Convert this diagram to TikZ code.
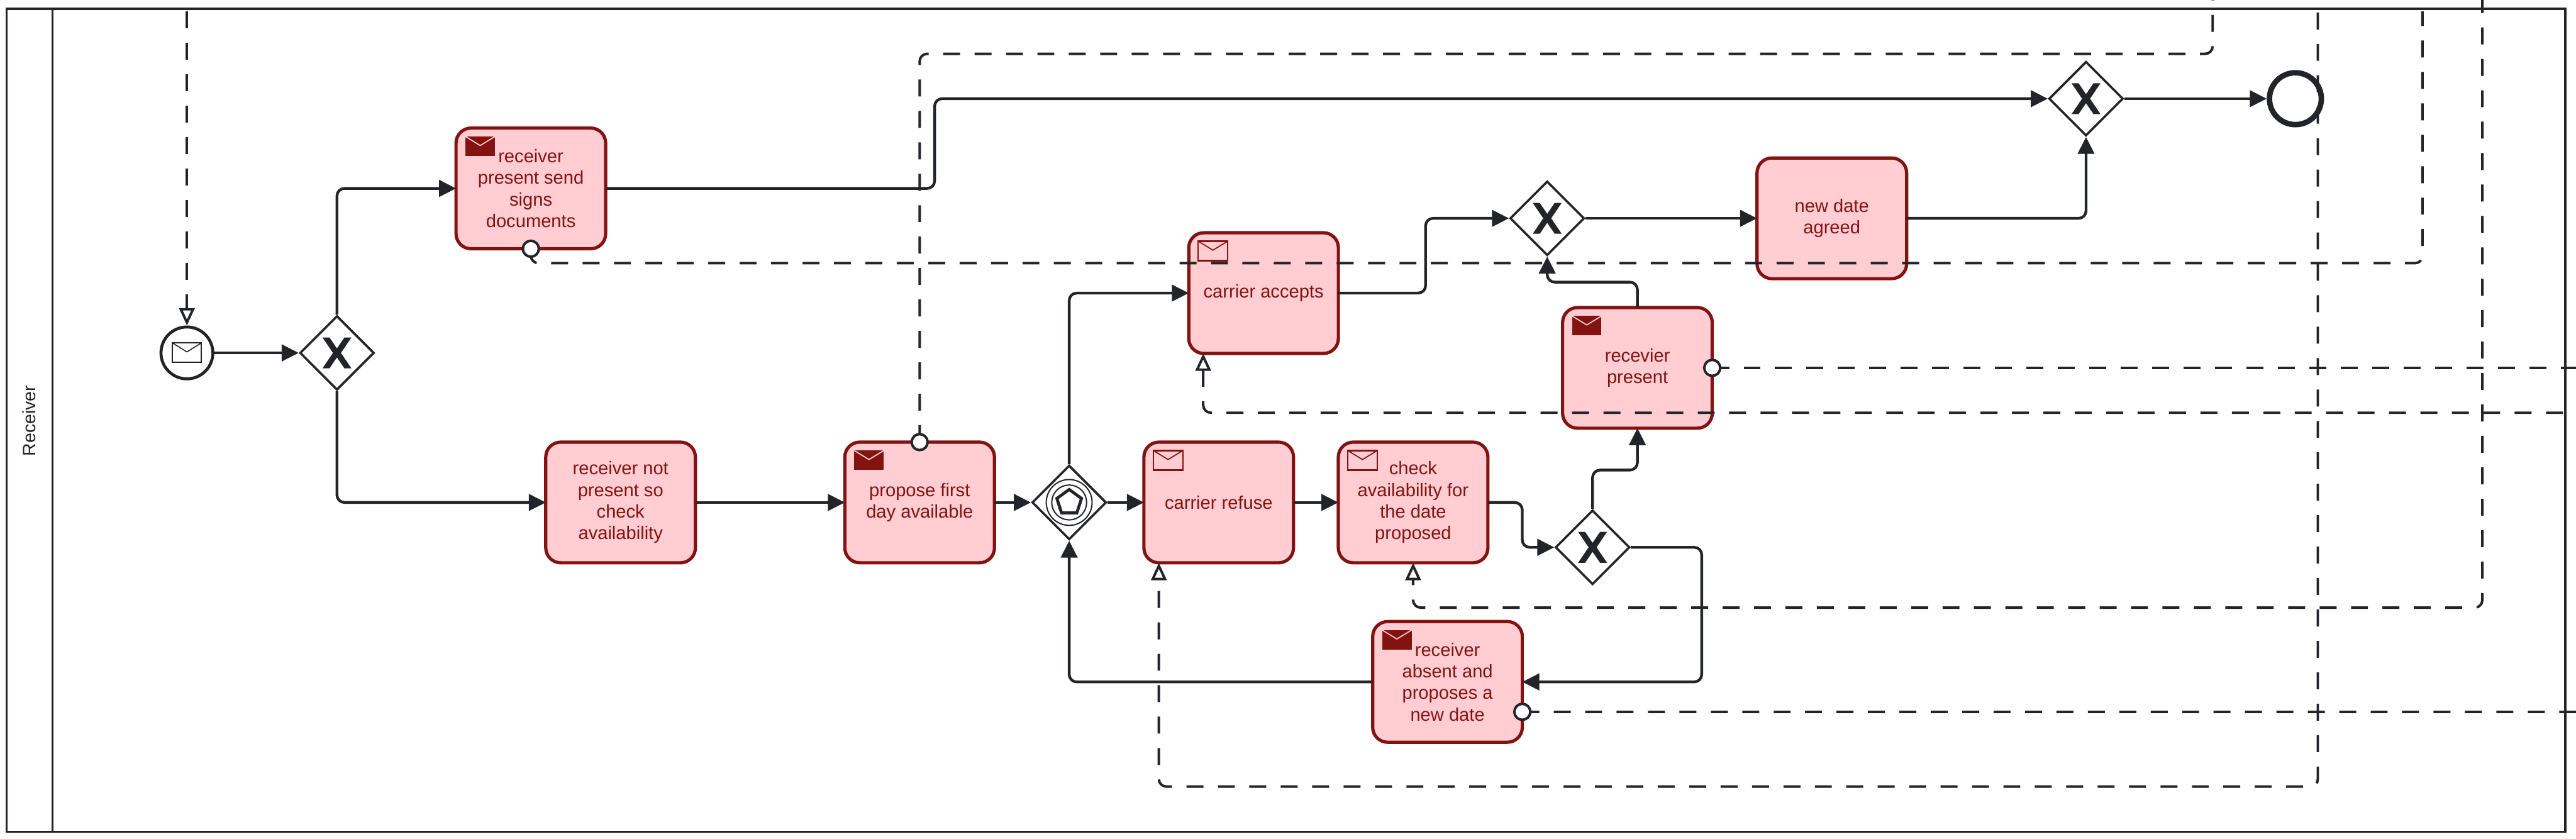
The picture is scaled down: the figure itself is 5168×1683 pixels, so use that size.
\documentclass[tikz,border=0pt]{standalone}
\usepackage{fontspec}
\setmainfont{Liberation Sans}
\usetikzlibrary{shapes.geometric, arrows.meta, calc}
\definecolor{linecolor}{RGB}{34,36,42}
\definecolor{taskline}{RGB}{131,19,17}
\definecolor{taskfill}{RGB}{255,205,210}
\tikzset{
    taskbox/.style={draw=taskline, fill=taskfill, text=taskline, line width=.065cm, rounded corners=.3cm,
        minimum width=3cm, minimum height=2.42cm, inner sep=0pt, outer sep=0pt, align=center,
        font=\fontsize{10.45}{12.33}\selectfont},
    gatewaybox/.style={diamond, draw=linecolor, fill=white, line width=.045cm, aspect=1,
        minimum width=1.49cm, minimum height=1.49cm, inner sep=0pt},
    flowline/.style={draw=linecolor, line width=.055cm, rounded corners=.15cm,
        -{Triangle[length=.34cm, width=.33cm]}},
    msgline/.style={draw=linecolor, line width=.05cm, rounded corners=.15cm, dash pattern=on .34cm off .29cm},
    msgtip/.style={-{Triangle[length=.35cm, width=.31cm, fill=white]}},
    msgdot/.style={circle, draw=linecolor, fill=white, line width=.05cm, minimum size=.32cm, inner sep=0pt},
    startevent/.style={circle, draw=linecolor, fill=white, line width=.06cm, minimum size=1.04cm, inner sep=0pt},
    endevent/.style={circle, draw=linecolor, fill=white, line width=.11cm, minimum size=1.04cm, inner sep=0pt}
}
\newcommand{\xmark}[1]{
    \fill[linecolor] ($(#1.center)+(-29,31)$) -- ++(14,0) -- ++(15,-22) -- ++(15,22) -- ++(14,0) -- ++(-21,-31)
        -- ++(21,-31) -- ++(-14,0) -- ++(-15,22) -- ++(-15,-22) -- ++(-14,0) -- ++(21,31) -- cycle;
}
\newcommand{\mailfull}[1]{
    \fill[taskline] ([shift={(19,17)}]#1.north west) rectangle ++(59,39);
    \draw[taskfill, line width=.022cm] ([shift={(19,17)}]#1.north west) -- ++(29.5,18) -- ++(29.5,-18);
}
\newcommand{\mailopen}[1]{
    \draw[taskline, line width=.03cm] ([shift={(19,17)}]#1.north west) rectangle ++(59,39);
    \draw[taskline, line width=.022cm] ([shift={(19,17)}]#1.north west) -- ++(29.5,18) -- ++(29.5,-18);
}
\begin{document}
\begin{tikzpicture}[x=.01cm, y=-.01cm]
    \useasboundingbox (0,0) rectangle (5168,1683);

    \node[draw=linecolor, line width=.042cm, minimum width=51.3cm, minimum height=16.5cm, inner sep=0pt] (pool) at (2580,843) {};
    \node[rotate=90, text=linecolor, font=\fontsize{10.24}{12.33}\selectfont] (lanename) at (58,844) {Receiver};
    \coordinate (lanetop) at (105,18);
    \draw[linecolor, line width=.042cm] (lanetop) -- (lanetop |- pool.south);

    \node[startevent] (start) at (375,708) {};
    \node[gatewaybox] (gwsplit) at (676,708) {};
    \node[taskbox] (presenttask) at (1065,378) {receiver\\present send\\signs\\documents};
    \node[taskbox] (notpresent) at (1245,1008) {receiver not\\present so\\check\\availability};
    \node[taskbox] (propose) at (1845,1008) {propose first\\day available};
    \node[gatewaybox] (gwevent) at (2145,1008) {};
    \node[taskbox] (refuse) at (2445,1008) {carrier refuse};
    \node[taskbox] (check) at (2835,1008) {check\\availability for\\the date\\proposed};
    \node[gatewaybox] (gwcheck) at (3195,1098) {};
    \node[taskbox] (absent) at (2904,1368) {receiver\\absent and\\proposes a\\new date};
    \node[taskbox] (accepts) at (2535,588) {carrier accepts};
    \node[taskbox] (recevier) at (3285,738) {recevier\\present};
    \node[gatewaybox] (gwaccept) at (3104,438) {};
    \node[taskbox] (newdate) at (3675,438) {new date\\agreed};
    \node[gatewaybox] (gwend) at (4185,198) {};
    \node[endevent] (finish) at (4605,198) {};

    \draw[linecolor, line width=.025cm, fill=white] (346,688) rectangle (404,727);
    \draw[linecolor, line width=.02cm] (346,688) -- (375,706) -- (404,688);
    \xmark{gwsplit}
    \xmark{gwcheck}
    \xmark{gwaccept}
    \xmark{gwend}
    \draw[linecolor, line width=.025cm] (gwevent.center) circle (46);
    \draw[linecolor, line width=.025cm] (gwevent.center) circle (35);
    \node[regular polygon, regular polygon sides=5, draw=linecolor, line width=.06cm, minimum size=.52cm, inner sep=0pt] (pentagon) at (gwevent.center) {};
    \mailfull{presenttask}
    \mailfull{propose}
    \mailopen{refuse}
    \mailopen{check}
    \mailfull{absent}
    \mailopen{accepts}
    \mailfull{recevier}

    \coordinate (presentbend) at (1875,378);
    \coordinate (checkbend) at (3054,1008);
    \coordinate (gwcheckbend) at (3414,1098);
    \coordinate (acceptsbend) at (2860,588);
    \coordinate (upbend) at (3285,943);
    \coordinate (recevierbend) at (3285,566);

    \draw[flowline] (start) -- (gwsplit);
    \draw[flowline] (gwsplit.north) |- (presenttask.west);
    \draw[flowline] (gwsplit.south) |- (notpresent.west);
    \draw[flowline] (notpresent) -- (propose);
    \draw[flowline] (propose) -- (gwevent);
    \draw[flowline] (gwevent) -- (refuse);
    \draw[flowline] (refuse) -- (check);
    \draw[flowline] (gwevent.north) |- (accepts.west);
    \draw[flowline] (check.east) -- (checkbend) -- (checkbend |- gwcheck.west) -- (gwcheck.west);
    \draw[flowline] (gwcheck.north) -- (gwcheck.north |- upbend) -- (upbend) -- (recevier.south);
    \draw[flowline] (gwcheck.east) -- (gwcheckbend) -- (gwcheckbend |- absent.east) -- (absent.east);
    \draw[flowline] (absent.west) -| (gwevent.south);
    \draw[flowline] (accepts.east) -- (acceptsbend) -- (acceptsbend |- gwaccept.west) -- (gwaccept.west);
    \draw[flowline] (recevier.north) -- (recevierbend) -- (recevierbend -| gwaccept.south) -- (gwaccept.south);
    \draw[flowline] (gwaccept) -- (newdate);
    \draw[flowline] (newdate.east) -| (gwend.south);
    \draw[flowline] (presenttask.east) -- (presentbend) -- (presentbend |- gwend.west) -- (gwend.west);
    \draw[flowline] (gwend) -- (finish);

    \coordinate (tostart) at (375,23);
    \coordinate (proposeout) at (4439,0);
    \coordinate (presentout) at (4860,23);
    \coordinate (refusein) at (4650,25);
    \coordinate (checkin) at (4980,-8);
    \coordinate (acceptsin) at (5205,828);
    \coordinate (recevierout) at (5168,738);
    \coordinate (absentout) at (5168,1428);
    \coordinate (refuseport) at ([xshift=-1.2cm]refuse.south);
    \coordinate (acceptsport) at ([xshift=-1.21cm]accepts.south);
    \coordinate (absentport) at ([yshift=-.6cm]absent.east);

    \draw[msgline, msgtip] (tostart) -- (start.north);
    \draw[msgline] (propose.north) -- (propose.north |- 0,108) -- (proposeout |- 0,108) -- (proposeout);
    \draw[msgline] (presenttask.south) -- (presenttask.south |- 0,528) -- (presentout |- 0,528) -- (presentout);
    \draw[msgline, msgtip] (refusein) -- (refusein |- 0,1578) -- (refuseport |- 0,1578) -- (refuseport);
    \draw[msgline, msgtip] (checkin) -- (checkin |- 0,1219) -- (check.south |- 0,1219) -- (check.south);
    \draw[msgline, msgtip] (acceptsin) -- (acceptsport |- acceptsin) -- (acceptsport);
    \draw[msgline] (recevier.east) -- (recevierout);
    \draw[msgline] (absentport) -- (absentout);

    \node[msgdot] (presentdot) at (presenttask.south) {};
    \node[msgdot] (proposedot) at (propose.north) {};
    \node[msgdot] (recevierdot) at (recevier.east) {};
    \node[msgdot] (absentdot) at (absentport) {};
\end{tikzpicture}
\end{document}
